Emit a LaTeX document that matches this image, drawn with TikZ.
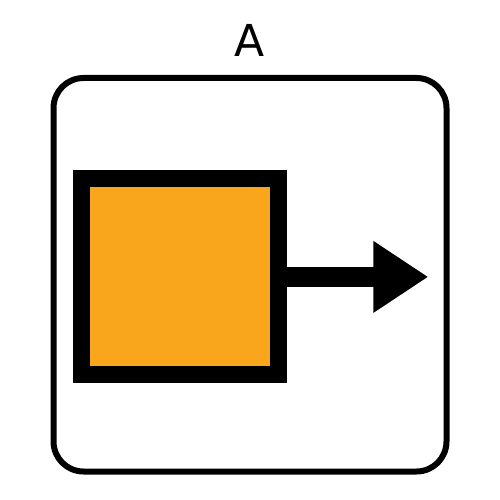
\documentclass[tikz,border=0pt]{standalone}
\usepackage{fontspec}
\setmainfont{DejaVu Sans}
\usetikzlibrary{arrows.meta}
\definecolor{orng}{HTML}{FAA61C}
\tikzset{
  framebox/.style={draw=black, line width=6pt, rounded corners=30pt, inner sep=0pt, minimum width=393pt, minimum height=393.5pt},
  squarebox/.style={draw=black, fill=orng, line width=17pt, inner sep=0pt, minimum width=197pt, minimum height=196pt},
  bigarrow/.style={line width=20pt, -{Triangle[length=55pt,width=68pt]}},
  titlelabel/.style={font=\fontsize{44}{52}\selectfont, inner sep=0pt, anchor=base}
}
\begin{document}
\begin{tikzpicture}[x=1pt,y=-1pt]
\useasboundingbox[fill=white] (0,0) rectangle (500,500);
\node[framebox] (frame) at (250,274.75) {};
\node[titlelabel] (lbl) at (249.5,56.7) {A};
\node[squarebox] (sq) at (179.7,276.9) {};
\coordinate (tip) at (428.3,276.9);
\draw[bigarrow] (sq.east) -- (tip);
\end{tikzpicture}
\end{document}
